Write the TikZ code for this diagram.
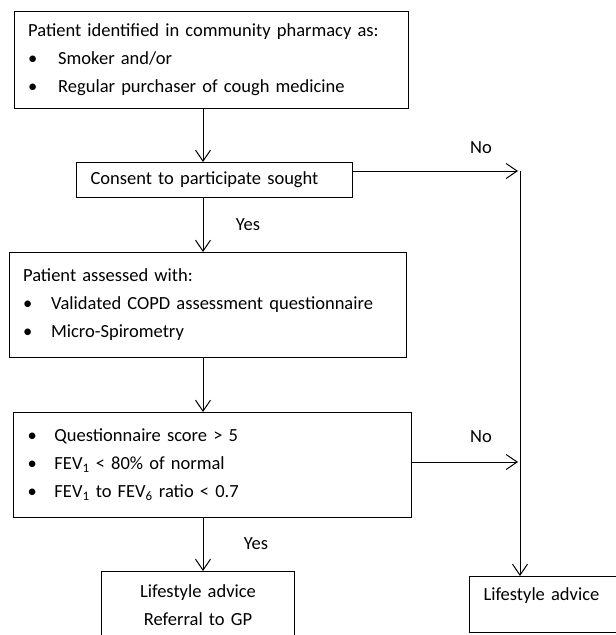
\documentclass[tikz,border=0pt]{standalone}
\usepackage{fontspec}
\setmainfont{Carlito}
\usetikzlibrary{arrows.meta}
\begin{document}
\begin{tikzpicture}[x=1pt, y=-1pt,
    box/.style={draw, line width=1pt, anchor=north west, inner xsep=14pt, inner ysep=0pt,
                align=left, font=\fontsize{18.5}{28}\selectfont},
    lbl/.style={font=\fontsize{18.5}{20}\selectfont},
    flow/.style={line width=1pt, -{Straight Barb[length=11pt, width=15pt, line width=1pt]}}]
    \useasboundingbox (0,0) rectangle (616,635);
    \clip (0,0) rectangle (616,635);

    % Boxes
    \node[box, minimum width=394, minimum height=97, text width=366] (ident) at (13.7,11)
        {Patient identified in community pharmacy as:\\
         \makebox[30pt][l]{\textbullet}Smoker and/or\\
         \makebox[30pt][l]{\textbullet}Regular purchaser of cough medicine};
    \node[box, minimum width=276, minimum height=35, text width=248] (consent) at (76,162)
        {Consent to participate sought};
    \node[box, minimum width=397, minimum height=105, text width=369] (assess) at (8.6,252)
        {Patient assessed with:\\
         \makebox[28pt][l]{\textbullet}Validated COPD assessment questionnaire\\
         \makebox[28pt][l]{\textbullet}Micro-Spirometry};
    \node[box, minimum width=398, minimum height=105, text width=370] (check) at (13,412)
        {\makebox[27pt][l]{\textbullet}Questionnaire score > 5\\
         \makebox[27pt][l]{\textbullet}FEV\textsubscript{1} < 80\% of normal\\
         \makebox[27pt][l]{\textbullet}FEV\textsubscript{1} to FEV\textsubscript{6} ratio < 0.7};
    \node[box, align=center, minimum width=193, minimum height=68, text width=165] (referral) at (101,571)
        {Lifestyle advice\\Referral to GP};
    \node[box, minimum width=160, minimum height=56, text width=132,
          text height=12pt, text depth=20pt] (advice) at (469,576)
        {Lifestyle advice};

    % Guide points
    \coordinate (spine) at (203,0);
    \coordinate (railtop) at (520,171);
    \coordinate (no1) at (518,171);
    \coordinate (no2) at (518,462);

    % Connectors
    \draw[flow] (ident.south -| spine) -- (consent.north -| spine);
    \draw[flow] (consent.south -| spine) -- (assess.north -| spine);
    \draw[flow] (assess.south -| spine) -- (check.north -| spine);
    \draw[flow] (check.south -| spine) -- (referral.north -| spine);
    \draw[flow] (consent.east |- no1) -- (no1);
    \draw[flow] (check.east |- no2) -- (no2);
    \draw[flow] (railtop) -- (advice.north -| railtop);

    % Labels
    \node[lbl] (no1lbl) at (481,148) {No};
    \node[lbl] (no2lbl) at (481,437) {No};
    \node[lbl] (yes1lbl) at (248,225) {Yes};
    \node[lbl] (yes2lbl) at (256,544) {Yes};
\end{tikzpicture}
\end{document}
